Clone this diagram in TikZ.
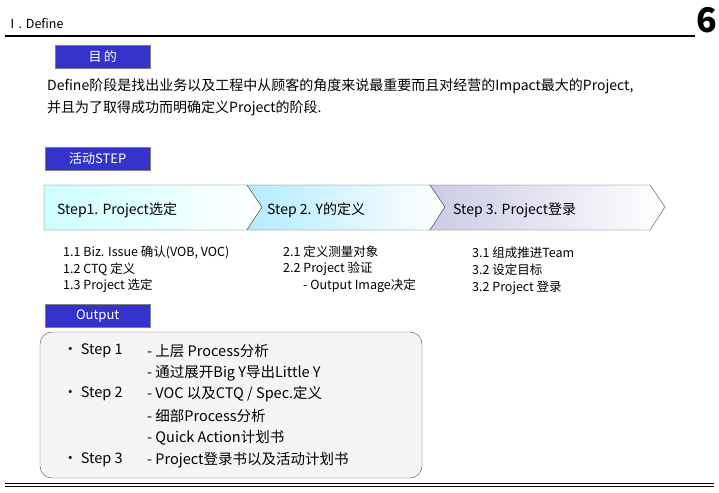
\documentclass[tikz,border=0pt]{standalone}
\usepackage{fontspec}
\setmainfont{Noto Sans CJK SC}
\definecolor{lblue}{HTML}{3333CC}
\begin{document}
\begin{tikzpicture}[x=1pt,y=-1pt,
  lbl/.style={fill=lblue,draw=gray,text=white,minimum height=23pt,inner sep=0pt,font=\fontsize{13}{14}\selectfont},
  txt/.style={anchor=west,inner sep=0pt,font=\fontsize{14}{16}\selectfont},
  sm/.style={anchor=west,inner sep=0pt,font=\fontsize{12.5}{14}\selectfont},
  ot/.style={anchor=west,inner sep=0pt,font=\fontsize{14.5}{16}\selectfont},
  chev/.style={draw=black!70}]
\useasboundingbox (0,0) rectangle (719,492);
\node[txt,font=\fontsize{12.5}{13}\selectfont] (title) at (6,24) {Ⅰ. Define};
\node[anchor=east,inner sep=0pt,font=\bfseries\fontsize{34}{34}\selectfont] (six) at (717,20) {6};
\draw[line width=1.5pt] (5,36) -- (695,36);
\node[lbl,minimum width=95pt,anchor=north west] (mudi) at (55,45) {目\,的};
\node[txt] (d1) at (47,86) {Define阶段是找出业务以及工程中从顾客的角度来说最重要而且对经营的Impact最大的Project,};
\node[txt] (d2) at (47,108) {并且为了取得成功而明确定义Project的阶段.};
\node[lbl,minimum width=105pt,anchor=north west] (act) at (45,147) {活动STEP};
% chevrons
\shade[left color=cyan!20,right color=white] (44,185) -- (247,185) -- (262,207) -- (247,230) -- (44,230) -- cycle;
\draw[chev] (44,185) -- (247,185) -- (262,207) -- (247,230) -- (44,230) -- cycle;
\shade[left color=blue!25!cyan!30,right color=white] (247,185) -- (430,185) -- (445,207) -- (430,230) -- (247,230) -- (262,207) -- cycle;
\draw[chev] (247,185) -- (430,185) -- (445,207) -- (430,230) -- (247,230) -- (262,207) -- cycle;
\shade[left color=blue!35!gray!30,right color=white] (430,185) -- (650,185) -- (665,207) -- (650,230) -- (430,230) -- (445,207) -- cycle;
\draw[chev] (430,185) -- (650,185) -- (665,207) -- (650,230) -- (430,230) -- (445,207) -- cycle;
\node[txt] (s1) at (57,210) {Step1. Project选定};
\node[txt] (s2) at (267,210) {Step 2. Y的定义};
\node[txt] (s3) at (453,210) {Step 3. Project登录};
\node[sm] (a1) at (63,252) {1.1 Biz. Issue 确认(VOB, VOC)};
\node[sm] (a2) at (63,269) {1.2 CTQ 定义};
\node[sm] (a3) at (63,286) {1.3 Project 选定};
\node[sm] (b1) at (283,252) {2.1 定义测量对象};
\node[sm] (b2) at (283,269) {2.2 Project 验证};
\node[sm] (b3) at (303,286) {- Output Image决定};
\node[sm] (c1) at (472,253) {3.1 组成推进Team};
\node[sm] (c2) at (472,270) {3.2 设定目标};
\node[sm] (c3) at (472,288) {3.2 Project 登录};
\node[lbl,minimum width=105pt,anchor=north west] (out) at (45,304) {Output};
\draw[black!70,fill=gray!8,rounded corners=12pt] (40,332) rectangle (422,478);
\node[ot] (o1) at (63,351) {• Step 1};
\node[ot] (o2) at (63,394) {• Step 2};
\node[ot] (o3) at (63,460) {• Step 3};
\node[ot] (p1) at (147,351) {- 上层 Process分析};
\node[ot] (p2) at (147,373) {- 通过展开Big Y导出Little Y};
\node[ot] (p3) at (147,394) {- VOC 以及CTQ / Spec.定义};
\node[ot] (p4) at (147,416) {- 细部Process分析};
\node[ot] (p5) at (147,438) {- Quick Action计划书};
\node[ot] (p6) at (147,460) {- Project登录书以及活动计划书};
\draw[line width=0.8pt] (5,483) -- (714,483);
\draw[line width=0.5pt] (5,486) -- (714,486);
\end{tikzpicture}
\end{document}
